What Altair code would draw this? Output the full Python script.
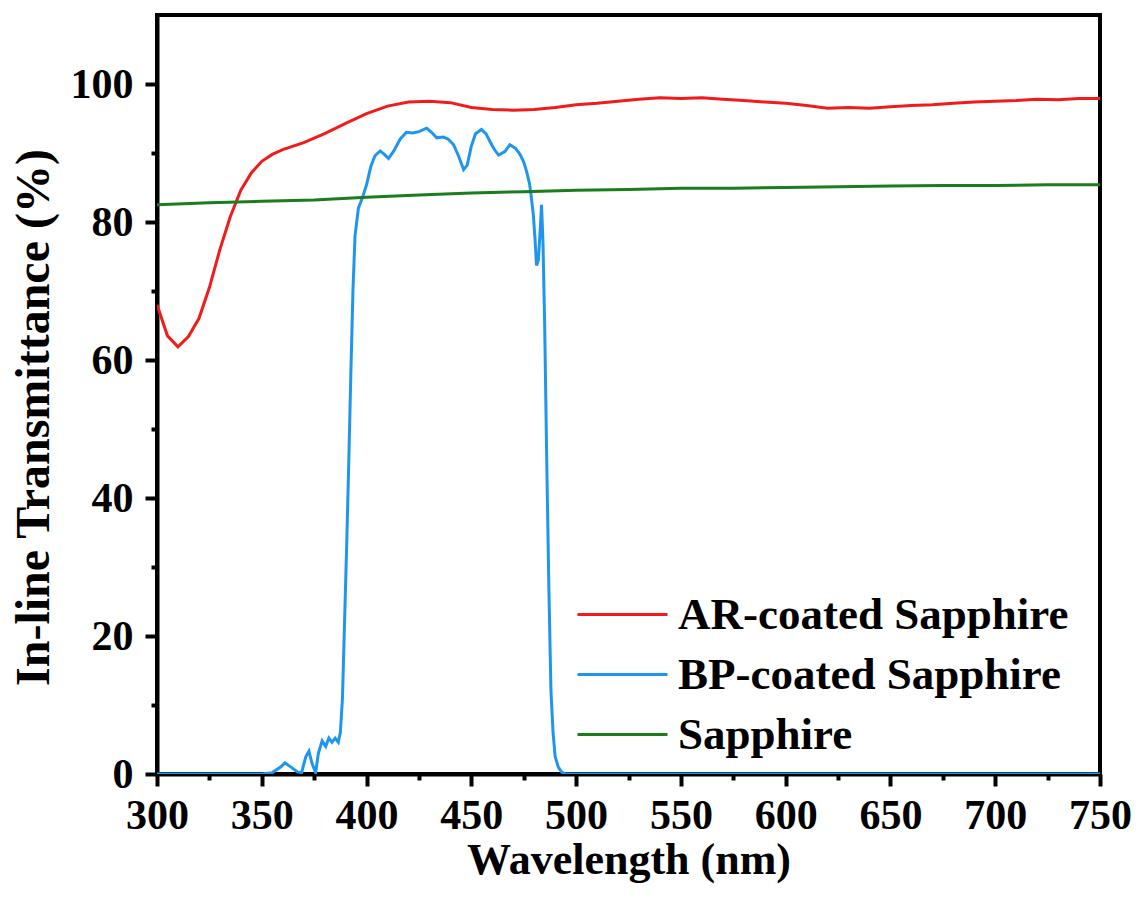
import altair as alt
import pandas as pd

# ---- data ----
series_names = ["AR-coated Sapphire", "BP-coated Sapphire", "Sapphire"]
series_colors = ["#f01c1c", "#1f96ee", "#1b7d1b"]

ar_wl = [300, 305, 310, 315, 320, 325, 330, 335, 340, 345, 350, 355, 360, 370, 380, 390,
         400, 410, 420, 430, 440, 450, 460, 470, 480, 490, 500, 510, 520, 530, 540, 550,
         560, 570, 580, 590, 600, 610, 620, 630, 640, 650, 660, 670, 680, 690, 700, 710,
         720, 730, 740, 750]
ar_t = [68.0, 63.5, 61.9, 63.4, 66.0, 70.5, 76.0, 80.8, 84.6, 87.1, 88.8, 89.8, 90.5, 91.5, 92.8, 94.3,
        95.7, 96.8, 97.4, 97.5, 97.3, 96.6, 96.3, 96.2, 96.3, 96.6, 97.0, 97.2, 97.5, 97.8, 98.0, 97.9,
        98.0, 97.8, 97.6, 97.4, 97.2, 96.9, 96.5, 96.6, 96.5, 96.7, 96.9, 97.0, 97.2, 97.4, 97.5, 97.6,
        97.8, 97.7, 97.9, 97.9]

bp_wl = [300, 350, 355, 359, 361, 364, 367, 369, 371, 372.5, 374, 375.7, 377, 378.8, 380.5, 382,
         383.5, 385, 386.5, 387.5, 388.5, 389.5, 390.5, 391.5, 392.5, 393.5, 394.5, 396.1, 398, 400,
         402, 404, 406.5, 408.5, 410.5, 413, 416, 419, 422, 425, 428.7, 431, 433.5, 436.6, 439, 441.5,
         444, 446.3, 448, 450, 452, 454.8, 457, 459, 461, 463, 466, 468.4, 471, 473.2, 475, 476.4,
         477.8, 478.7, 479.6, 480.4, 481.1, 482, 482.8, 483.5, 484.2, 485, 486, 487, 488, 489, 490,
         491.5, 493, 495, 750]
bp_t = [0.0, 0.0, 0.2, 1.0, 1.6, 1.0, 0.3, 0.2, 2.5, 3.3, 1.5, 0.2, 3.0, 4.8, 4.0, 5.2,
        4.6, 5.2, 4.6, 6.0, 11.0, 22.0, 33.0, 45.0, 58.0, 70.0, 78.0, 82.0, 83.5, 85.4,
        88.0, 89.6, 90.3, 89.8, 89.2, 90.3, 92.0, 93.0, 92.9, 93.1, 93.6, 93.0, 92.2, 92.3, 92.0, 91.2,
        89.5, 87.6, 88.2, 91.0, 92.8, 93.4, 92.8, 91.6, 90.5, 89.7, 90.2, 91.2, 90.7, 89.8, 88.7, 87.3,
        85.5, 83.4, 81.0, 77.5, 73.7, 74.5, 78.5, 82.5, 77.0, 65.0, 45.0, 27.0, 12.0, 6.0, 2.5,
        1.0, 0.3, 0.0, 0.0]

sp_wl = [300, 325, 350, 375, 400, 425, 450, 475, 500, 525, 550, 575, 600, 625, 650, 675, 700, 725, 750]
sp_t = [82.5, 82.8, 83.0, 83.2, 83.6, 83.9, 84.2, 84.4, 84.6, 84.7, 84.9, 84.9, 85.0, 85.1, 85.2, 85.3, 85.3, 85.4, 85.4]

x_ticks = list(range(300, 751, 25))
y_ticks = list(range(0, 101, 10))

rows = []
for name, wls, ts in [(series_names[0], ar_wl, ar_t), (series_names[1], bp_wl, bp_t), (series_names[2], sp_wl, sp_t)]:
    for i, (w, t) in enumerate(zip(wls, ts)):
        rows.append({"series": name, "wl": w, "t": t, "order": i})
df = pd.DataFrame(rows)

FONT = "Liberation Serif"

chart = alt.Chart(df).mark_line(strokeWidth=3, clip=True).encode(
    x=alt.X("wl:Q", scale=alt.Scale(domain=[300, 750], nice=False, zero=False),
            axis=alt.Axis(title="Wavelength (nm)", values=x_ticks,
                          labelExpr="datum.value % 50 === 0 ? datum.label : ''",
                          tickSize={"condition": {"test": "datum.value % 50 === 0", "value": 12}, "value": 6},
                          labelFontSize=42, titleFontSize=44, labelPadding=9, titlePadding=2,
                          labelFlush=False)),
    y=alt.Y("t:Q", scale=alt.Scale(domain=[0, 110], nice=False),
            axis=alt.Axis(title="In-line Transmittance (%)", values=y_ticks,
                          labelExpr="datum.value % 20 === 0 ? datum.label : ''",
                          tickSize={"condition": {"test": "datum.value % 20 === 0", "value": 12}, "value": 6},
                          labelFontSize=42, titleFontSize=48, labelPadding=12,
                          titleX=-123, titleY=402, titleBaseline="middle", titleAngle=270)),
    color=alt.Color("series:N", scale=alt.Scale(domain=series_names, range=series_colors),
                    legend=alt.Legend(title=None, orient="none", legendX=443, legendY=577,
                                      symbolType="M-4,0H4", symbolSize=506, symbolStrokeWidth=3,
                                      labelFontSize=45, labelFont=FONT, labelFontWeight="bold",
                                      labelColor="black",
                                      labelOffset=33, rowPadding=14, labelLimit=600)),
    detail="series:N",
    order="order:Q",
).properties(
    width=943, height=759,
    background="white",
    autosize=alt.AutoSizeParams(type="none"),
    padding={"left": 157, "top": 15, "right": 40, "bottom": 123},
).configure_view(
    stroke="black", strokeWidth=4
).configure_axis(
    labelFont=FONT, titleFont=FONT, labelFontWeight="bold", titleFontWeight="bold",
    labelColor="black", titleColor="black", grid=False,
    domainColor="black", domainWidth=4, tickColor="black", tickWidth=4,
)

chart.save("out.html", embed_options={"renderer": "svg", "actions": False})
